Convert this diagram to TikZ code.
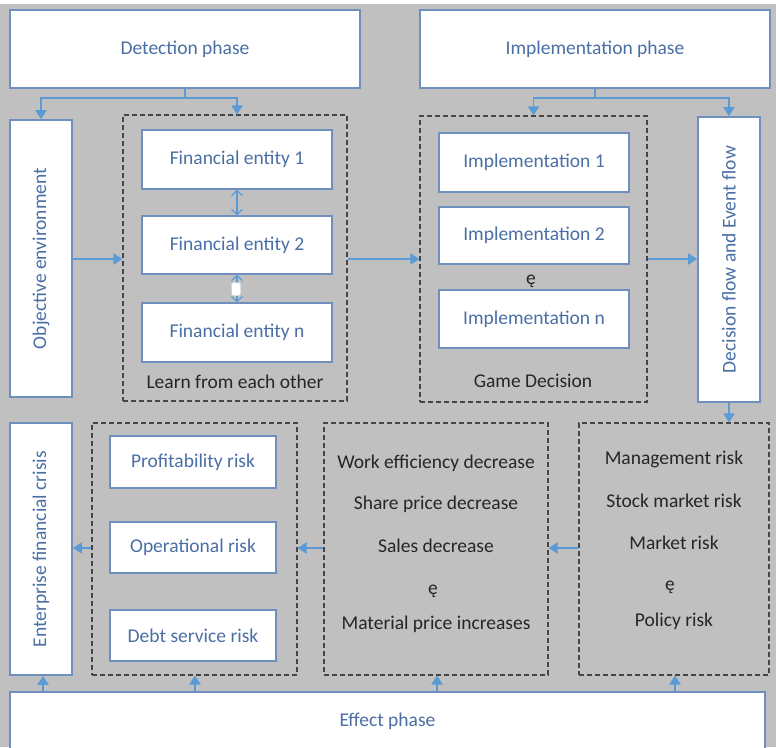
\documentclass[tikz,border=0pt]{standalone}
\usepackage{fontspec}
\setmainfont{Carlito}
\usetikzlibrary{arrows.meta}
\definecolor{bg}{HTML}{C0C0C0}
\definecolor{boxline}{HTML}{6F8FBF}
\definecolor{boxtext}{HTML}{4A6FA5}
\definecolor{arr}{HTML}{5B9BD5}
\definecolor{dash}{HTML}{454545}
\begin{document}
\begin{tikzpicture}[x=1pt,y=-1pt,
  txt/.style={font=\fontsize{19.5}{23}\selectfont},
  box/.style={draw=boxline,line width=1.6pt,fill=white,text=boxtext,inner sep=0pt,txt},
  grp/.style={draw=dash,line width=1.1pt,dash pattern=on 5pt off 3pt,inner sep=0pt},
  plain/.style={text=black!85,txt,inner sep=0pt},
  vtext/.style={text=boxtext,rotate=90,txt,inner sep=0pt},
  flow/.style={draw=arr,line width=1.8pt,-{Triangle[width=11pt,length=9pt]}},
  twoway/.style={draw=arr,line width=1.2pt,{Straight Barb[width=11pt,length=5pt]}-{Straight Barb[width=11pt,length=5pt]}}]
\clip (0,0) rectangle (776,747);
\fill[bg] (0,0) rectangle (776,747);
\fill[white] (0,0) rectangle (776,4);
% top phases
\node[box,minimum width=350pt,minimum height=78pt] (det) at (185,49) {Detection phase};
\node[box,minimum width=350pt,minimum height=78pt] (imp) at (595,49) {Implementation phase};
% left column
\node[box,minimum width=62pt,minimum height=277pt] (obj) at (41,258.5) {};
\node[vtext] at (obj.center) {Objective environment};
% learn group
\node[grp,minimum width=224pt,minimum height=286pt] (learn) at (235,258) {};
\node[box,minimum width=190pt,minimum height=59pt] (fe1) at (237,159.5) {Financial entity 1};
\node[box,minimum width=190pt,minimum height=58pt] (fe2) at (237,245) {Financial entity 2};
\node[box,minimum width=190pt,minimum height=59pt] (fen) at (237,332.5) {Financial entity n};
\node[plain] (learnlbl) at (235,382) {Learn from each other};
\draw[twoway] (fe1.south) -- (fe2.north);
\draw[twoway] (fe2.south) -- (fen.north);
\node[fill=white,draw=arr!40,line width=0.4pt,rounded corners=1.5pt,minimum width=9pt,minimum height=13pt,inner sep=0pt] (gap) at (236,289) {};
% game group
\node[grp,minimum width=227pt,minimum height=286pt] (game) at (533.5,259) {};
\node[box,minimum width=190pt,minimum height=59pt] (im1) at (534,162.5) {Implementation 1};
\node[box,minimum width=190pt,minimum height=57pt] (im2) at (534,235.5) {Implementation 2};
\node[box,minimum width=190pt,minimum height=58pt] (imn) at (534,319) {Implementation n};
\node[plain] (dots1) at (531,281) {ę};
\node[plain] (gamelbl) at (533,381) {Game Decision};
% decision flow
\node[box,minimum width=62pt,minimum height=285pt] (dec) at (729,259.5) {};
\node[vtext] at (dec.center) {Decision flow and Event flow};
% bottom row
\node[box,minimum width=62pt,minimum height=252pt] (ent) at (41,549) {};
\node[vtext] at (ent.center) {Enterprise financial crisis};
\node[grp,minimum width=205pt,minimum height=252pt] (risk) at (194.5,549) {};
\node[box,minimum width=166pt,minimum height=52pt] (pr) at (193,462) {Profitability risk};
\node[box,minimum width=166pt,minimum height=51pt] (op) at (193,547.5) {Operational risk};
\node[box,minimum width=166pt,minimum height=51pt] (db) at (193,635.5) {Debt service risk};
\node[grp,minimum width=224pt,minimum height=252pt] (mid) at (436,549) {};
\node[plain] at (436,463) {Work efficiency decrease};
\node[plain] at (436,504) {Share price decrease};
\node[plain] at (436,546) {Sales decrease};
\node[plain] at (433,591) {ę};
\node[plain] at (436,624) {Material price increases};
\node[grp,minimum width=190pt,minimum height=252pt] (rgt) at (674,549) {};
\node[plain] at (674,459) {Management risk};
\node[plain] at (674,501) {Stock market risk};
\node[plain] at (674,543) {Market risk};
\node[plain] at (670,587) {ę};
\node[plain] at (674,621) {Policy risk};
% effect phase
\node[box,minimum width=755pt,minimum height=58pt] (eff) at (387.5,721) {Effect phase};
% connectors: top splits
\coordinate (dj) at (185,98);
\draw[draw=arr,line width=1.8pt] (det.south) -- (dj);
\draw[flow] (dj) -| (obj.north);
\draw[flow] (dj) -| (learn.north -| fe1.north);
\coordinate (ij) at (595,98);
\draw[draw=arr,line width=1.8pt] (imp.south) -- (ij);
\draw[flow] (ij) -| (game.north);
\draw[flow] (ij) -| (dec.north);
% horizontal flows
\draw[flow] (obj.east |- 0,259) -- (learn.west |- 0,259);
\draw[flow] (learn.east |- 0,259) -- (game.west |- 0,259);
\draw[flow] (game.east |- 0,259) -- (dec.west |- 0,259);
\draw[flow] (dec.south) -- (rgt.north -| dec.south);
\draw[flow] (rgt.west |- 0,548) -- (mid.east |- 0,548);
\draw[flow] (mid.west |- 0,548) -- (risk.east |- 0,548);
\draw[flow] (risk.west |- 0,548) -- (ent.east |- 0,548);
% effect arrows
\draw[flow] (eff.north -| 43,0) -- (ent.south -| 43,0);
\draw[flow] (eff.north -| 195,0) -- (risk.south -| 195,0);
\draw[flow] (eff.north -| 437,0) -- (mid.south -| 437,0);
\draw[flow] (eff.north -| 675,0) -- (rgt.south -| 675,0);
\end{tikzpicture}
\end{document}
